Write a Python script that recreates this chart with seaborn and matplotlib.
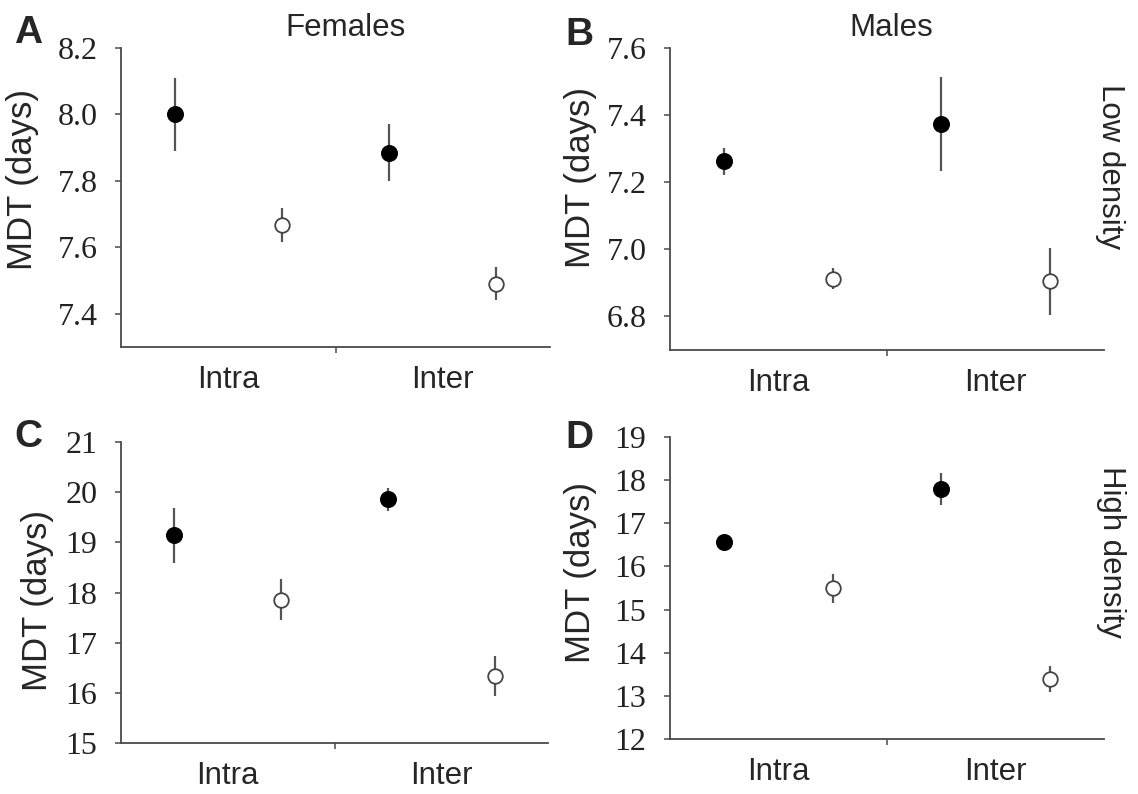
import numpy as np
import pandas as pd
import seaborn as sns
import matplotlib.pyplot as plt

categories = ['Intra', 'Inter']

# panel A - females, low density
a_filled_mean = [8.00, 7.885]
a_filled_err = [0.11, 0.085]
a_open_mean = [7.667, 7.49]
a_open_err = [0.05, 0.05]

# panel B - males, low density
b_filled_mean = [7.263, 7.373]
b_filled_err = [0.04, 0.14]
b_open_mean = [6.913, 6.905]
b_open_err = [0.03, 0.10]

# panel C - females, high density
c_filled_mean = [19.14, 19.86]
c_filled_err = [0.55, 0.23]
c_open_mean = [17.86, 16.33]
c_open_err = [0.40, 0.40]

# panel D - males, high density
d_filled_mean = [16.56, 17.80]
d_filled_err = [0.08, 0.37]
d_open_mean = [15.49, 13.39]
d_open_err = [0.33, 0.30]

a_ticks = [7.4, 7.6, 7.8, 8.0, 8.2]
b_ticks = [6.8, 7.0, 7.2, 7.4, 7.6]
c_ticks = [15, 16, 17, 18, 19, 20, 21]
d_ticks = [12, 13, 14, 15, 16, 17, 18, 19]

sns.set_style('ticks')
plt.rcParams['font.family'] = ['Liberation Sans', 'DejaVu Sans']

W, H = 1138, 794
fig = plt.figure(figsize=(W / 100, H / 100), dpi=100)


def make_df(filled_mean, filled_err, open_mean, open_err):
    rows = []
    for i, cat in enumerate(categories):
        rows.append({'cat': cat, 'group': 'filled', 'pos': 2 * i + 0.5,
                     'mean': filled_mean[i], 'err': filled_err[i]})
        rows.append({'cat': cat, 'group': 'open', 'pos': 2 * i + 1.5,
                     'mean': open_mean[i], 'err': open_err[i]})
    return pd.DataFrame(rows)


panels = [
    # letter, axes box in px (left, top, right, bottom), data, ticks, ylim, fmt, ylabel x, ylabel y
    ('A', (121, 48, 550, 347), make_df(a_filled_mean, a_filled_err, a_open_mean, a_open_err),
     a_ticks, (7.3, 8.2), '{:.1f}', -0.19, 0.56),
    ('B', (670, 48, 1104, 350), make_df(b_filled_mean, b_filled_err, b_open_mean, b_open_err),
     b_ticks, (6.7, 7.6), '{:.1f}', -0.168, 0.57),
    ('C', (121, 442, 548, 743), make_df(c_filled_mean, c_filled_err, c_open_mean, c_open_err),
     c_ticks, (15, 21), '{:.0f}', -0.157, 0.475),
    ('D', (670, 437, 1104, 739), make_df(d_filled_mean, d_filled_err, d_open_mean, d_open_err),
     d_ticks, (12, 19), '{:.0f}', -0.168, 0.55),
]

spine_col = '#4a4a4a'
for letter, (l, t, r, b), df, ticks, ylim, fmt, lx, ly in panels:
    ax = fig.add_axes([l / W, 1 - b / H, (r - l) / W, (b - t) / H])
    ax.errorbar(df['pos'], df['mean'], yerr=df['err'], fmt='none',
                ecolor='#555555', elinewidth=1.6, capsize=0, zorder=2)
    sns.scatterplot(data=df[df['group'] == 'filled'], x='pos', y='mean', ax=ax,
                    color='black', edgecolor='black', s=150, linewidth=0, zorder=3, legend=False)
    sns.scatterplot(data=df[df['group'] == 'open'], x='pos', y='mean', ax=ax,
                    color='white', edgecolor='#444444', s=110, linewidth=1.3, zorder=3, legend=False)
    sns.despine(ax=ax)
    ax.set_xlim(0, 4)
    ax.set_ylim(*ylim)
    ax.set_yticks(ticks)
    ax.set_yticklabels([fmt.format(v) for v in ticks])
    ax.set_xticks([1, 3])
    ax.set_xticklabels(categories)
    ax.set_xticks([2], minor=True)
    ax.tick_params(axis='x', which='major', length=0, pad=13, labelsize=22.5)
    ax.tick_params(axis='x', which='minor', length=4, width=1.1, color=spine_col)
    ax.tick_params(axis='y', length=4, width=1.1, color=spine_col, pad=13,
                   labelsize=23, labelcolor='#222222', labelfontfamily='Liberation Serif')
    for sp in ['left', 'bottom']:
        ax.spines[sp].set_color(spine_col)
        ax.spines[sp].set_linewidth(1.3)
    ax.set_xlabel('')
    ax.set_ylabel('MDT (days)', fontsize=25)
    ax.yaxis.set_label_coords(lx, ly)

# panel letters
fig.text(14 / W, 1 - 43 / H, 'A', fontsize=28, fontweight='bold', va='baseline')
fig.text(565 / W, 1 - 45 / H, 'B', fontsize=28, fontweight='bold', va='baseline')
fig.text(14 / W, 1 - 447 / H, 'C', fontsize=28, fontweight='bold', va='baseline')
fig.text(565 / W, 1 - 448 / H, 'D', fontsize=28, fontweight='bold', va='baseline')

# column / row headers
fig.text(345 / W, 1 - 36 / H, 'Females', fontsize=22.5, ha='center', va='baseline')
fig.text(891 / W, 1 - 36 / H, 'Males', fontsize=22.5, ha='center', va='baseline')
fig.text(1110 / W, 1 - 167 / H, 'Low density', fontsize=22.5, ha='center', va='center', rotation=-90)
fig.text(1111 / W, 1 - 552 / H, 'High density', fontsize=22.5, ha='center', va='center', rotation=-90)

plt.savefig('out.png', dpi=100)
